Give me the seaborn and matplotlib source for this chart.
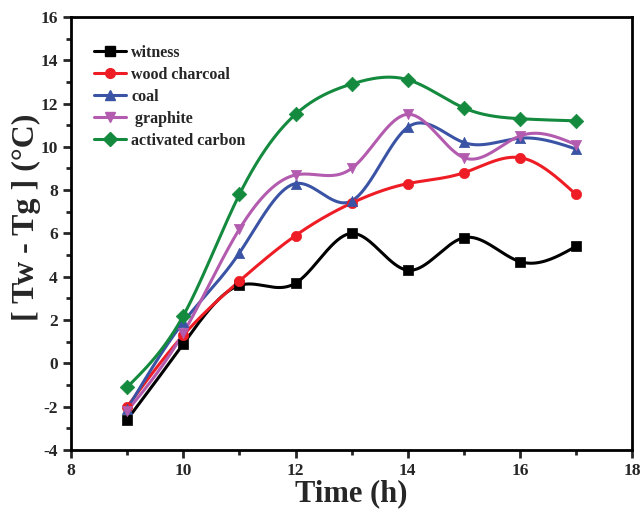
"""Tw - Tg temperature difference over the day for different carbon additives."""

import matplotlib.pyplot as plt
import numpy as np
import seaborn as sns
from matplotlib.lines import Line2D
from matplotlib.ticker import MultipleLocator

plt.switch_backend("Agg")

HOURS = [9, 10, 11, 12, 13, 14, 15, 16, 17]
WITNESS = [-2.6, 0.9, 3.6, 3.7, 6.0, 4.3, 5.8, 4.7, 5.4]
WOOD_CHARCOAL = [-2.0, 1.3, 3.8, 5.9, 7.4, 8.3, 8.8, 9.5, 7.8]
COAL = [-2.1, 1.9, 5.1, 8.3, 7.5, 10.9, 10.2, 10.4, 9.9]
GRAPHITE = [-2.2, 1.4, 6.2, 8.7, 9.0, 11.5, 9.5, 10.5, 10.1]
ACTIVATED_CARBON = [-1.1, 2.2, 7.8, 11.5, 12.9, 13.1, 11.8, 11.3, 11.2]

SERIES = [
    ("witness", WITNESS, "#000000", "s"),
    ("wood charcoal", WOOD_CHARCOAL, "#EE1D25", "o"),
    ("coal", COAL, "#3A53A4", "^"),
    (" graphite", GRAPHITE, "#B35BAE", "v"),
    ("activated carbon", ACTIVATED_CARBON, "#148A3E", "D"),
]


def natural_spline(x, y, samples=300):
    """Natural cubic spline through the points, only for drawing the line."""
    x = np.asarray(x, dtype=float)
    y = np.asarray(y, dtype=float)
    n = len(x)
    h = np.diff(x)
    a = np.zeros((n, n))
    b = np.zeros(n)
    a[0, 0] = a[-1, -1] = 1.0
    for i in range(1, n - 1):
        a[i, i - 1] = h[i - 1]
        a[i, i] = 2 * (h[i - 1] + h[i])
        a[i, i + 1] = h[i]
        b[i] = 6 * ((y[i + 1] - y[i]) / h[i] - (y[i] - y[i - 1]) / h[i - 1])
    m = np.linalg.solve(a, b)
    xs = np.linspace(x[0], x[-1], samples)
    idx = np.clip(np.searchsorted(x, xs) - 1, 0, n - 2)
    x0, x1 = x[idx], x[idx + 1]
    hh = x1 - x0
    t0, t1 = x1 - xs, xs - x0
    ys = (
        m[idx] * t0**3 / (6 * hh)
        + m[idx + 1] * t1**3 / (6 * hh)
        + (y[idx] / hh - m[idx] * hh / 6) * t0
        + (y[idx + 1] / hh - m[idx + 1] * hh / 6) * t1
    )
    return xs, ys


sns.set_theme(style="ticks")
plt.rcParams["font.family"] = ["Liberation Serif", "DejaVu Serif"]
plt.rcParams["font.weight"] = "bold"
plt.rcParams["axes.unicode_minus"] = False

fig = plt.figure(figsize=(6.41, 5.13), dpi=100)
ax = fig.add_axes([0.111, 0.123, 0.875, 0.844])

handles = []
for label, values, color, marker in SERIES:
    xs, ys = natural_spline(HOURS, values)
    sns.lineplot(x=xs, y=ys, color=color, linewidth=2.2, sort=False, ax=ax)
    sns.scatterplot(
        x=HOURS, y=values, color=color, marker=marker, s=55,
        edgecolor=color, linewidth=0.5, zorder=3, ax=ax,
    )
    handles.append(
        Line2D([], [], color=color, marker=marker, linewidth=2.2, markersize=7, label=label)
    )

ax.set_xlim(8, 18)
ax.set_ylim(-4, 16)
ax.xaxis.set_major_locator(MultipleLocator(2))
ax.xaxis.set_minor_locator(MultipleLocator(1))
ax.yaxis.set_major_locator(MultipleLocator(2))
ax.yaxis.set_minor_locator(MultipleLocator(1))
ax.tick_params(which="major", direction="out", length=6, width=2, labelsize=12.5)
ax.tick_params(which="minor", direction="out", length=3.5, width=2)
for spine in ax.spines.values():
    spine.set_linewidth(2)
    spine.set_color("black")
for tick in ax.get_xticklabels() + ax.get_yticklabels():
    tick.set_fontweight("bold")

ax.set_xlabel("Time (h)", fontsize=22, fontweight="bold", labelpad=0)
ax.set_ylabel("[ Tw - Tg ] (°C)", fontsize=23, fontweight="bold")
ax.yaxis.set_label_coords(-0.053, 0.537)

ax.legend(
    handles=handles, loc="upper left", bbox_to_anchor=(0.03, 0.95), frameon=False,
    prop={"weight": "bold", "size": 11.5}, handlelength=2.0, handletextpad=0.3,
    labelspacing=0.37, borderaxespad=0.0,
)

fig.savefig("out.png", dpi=100)
